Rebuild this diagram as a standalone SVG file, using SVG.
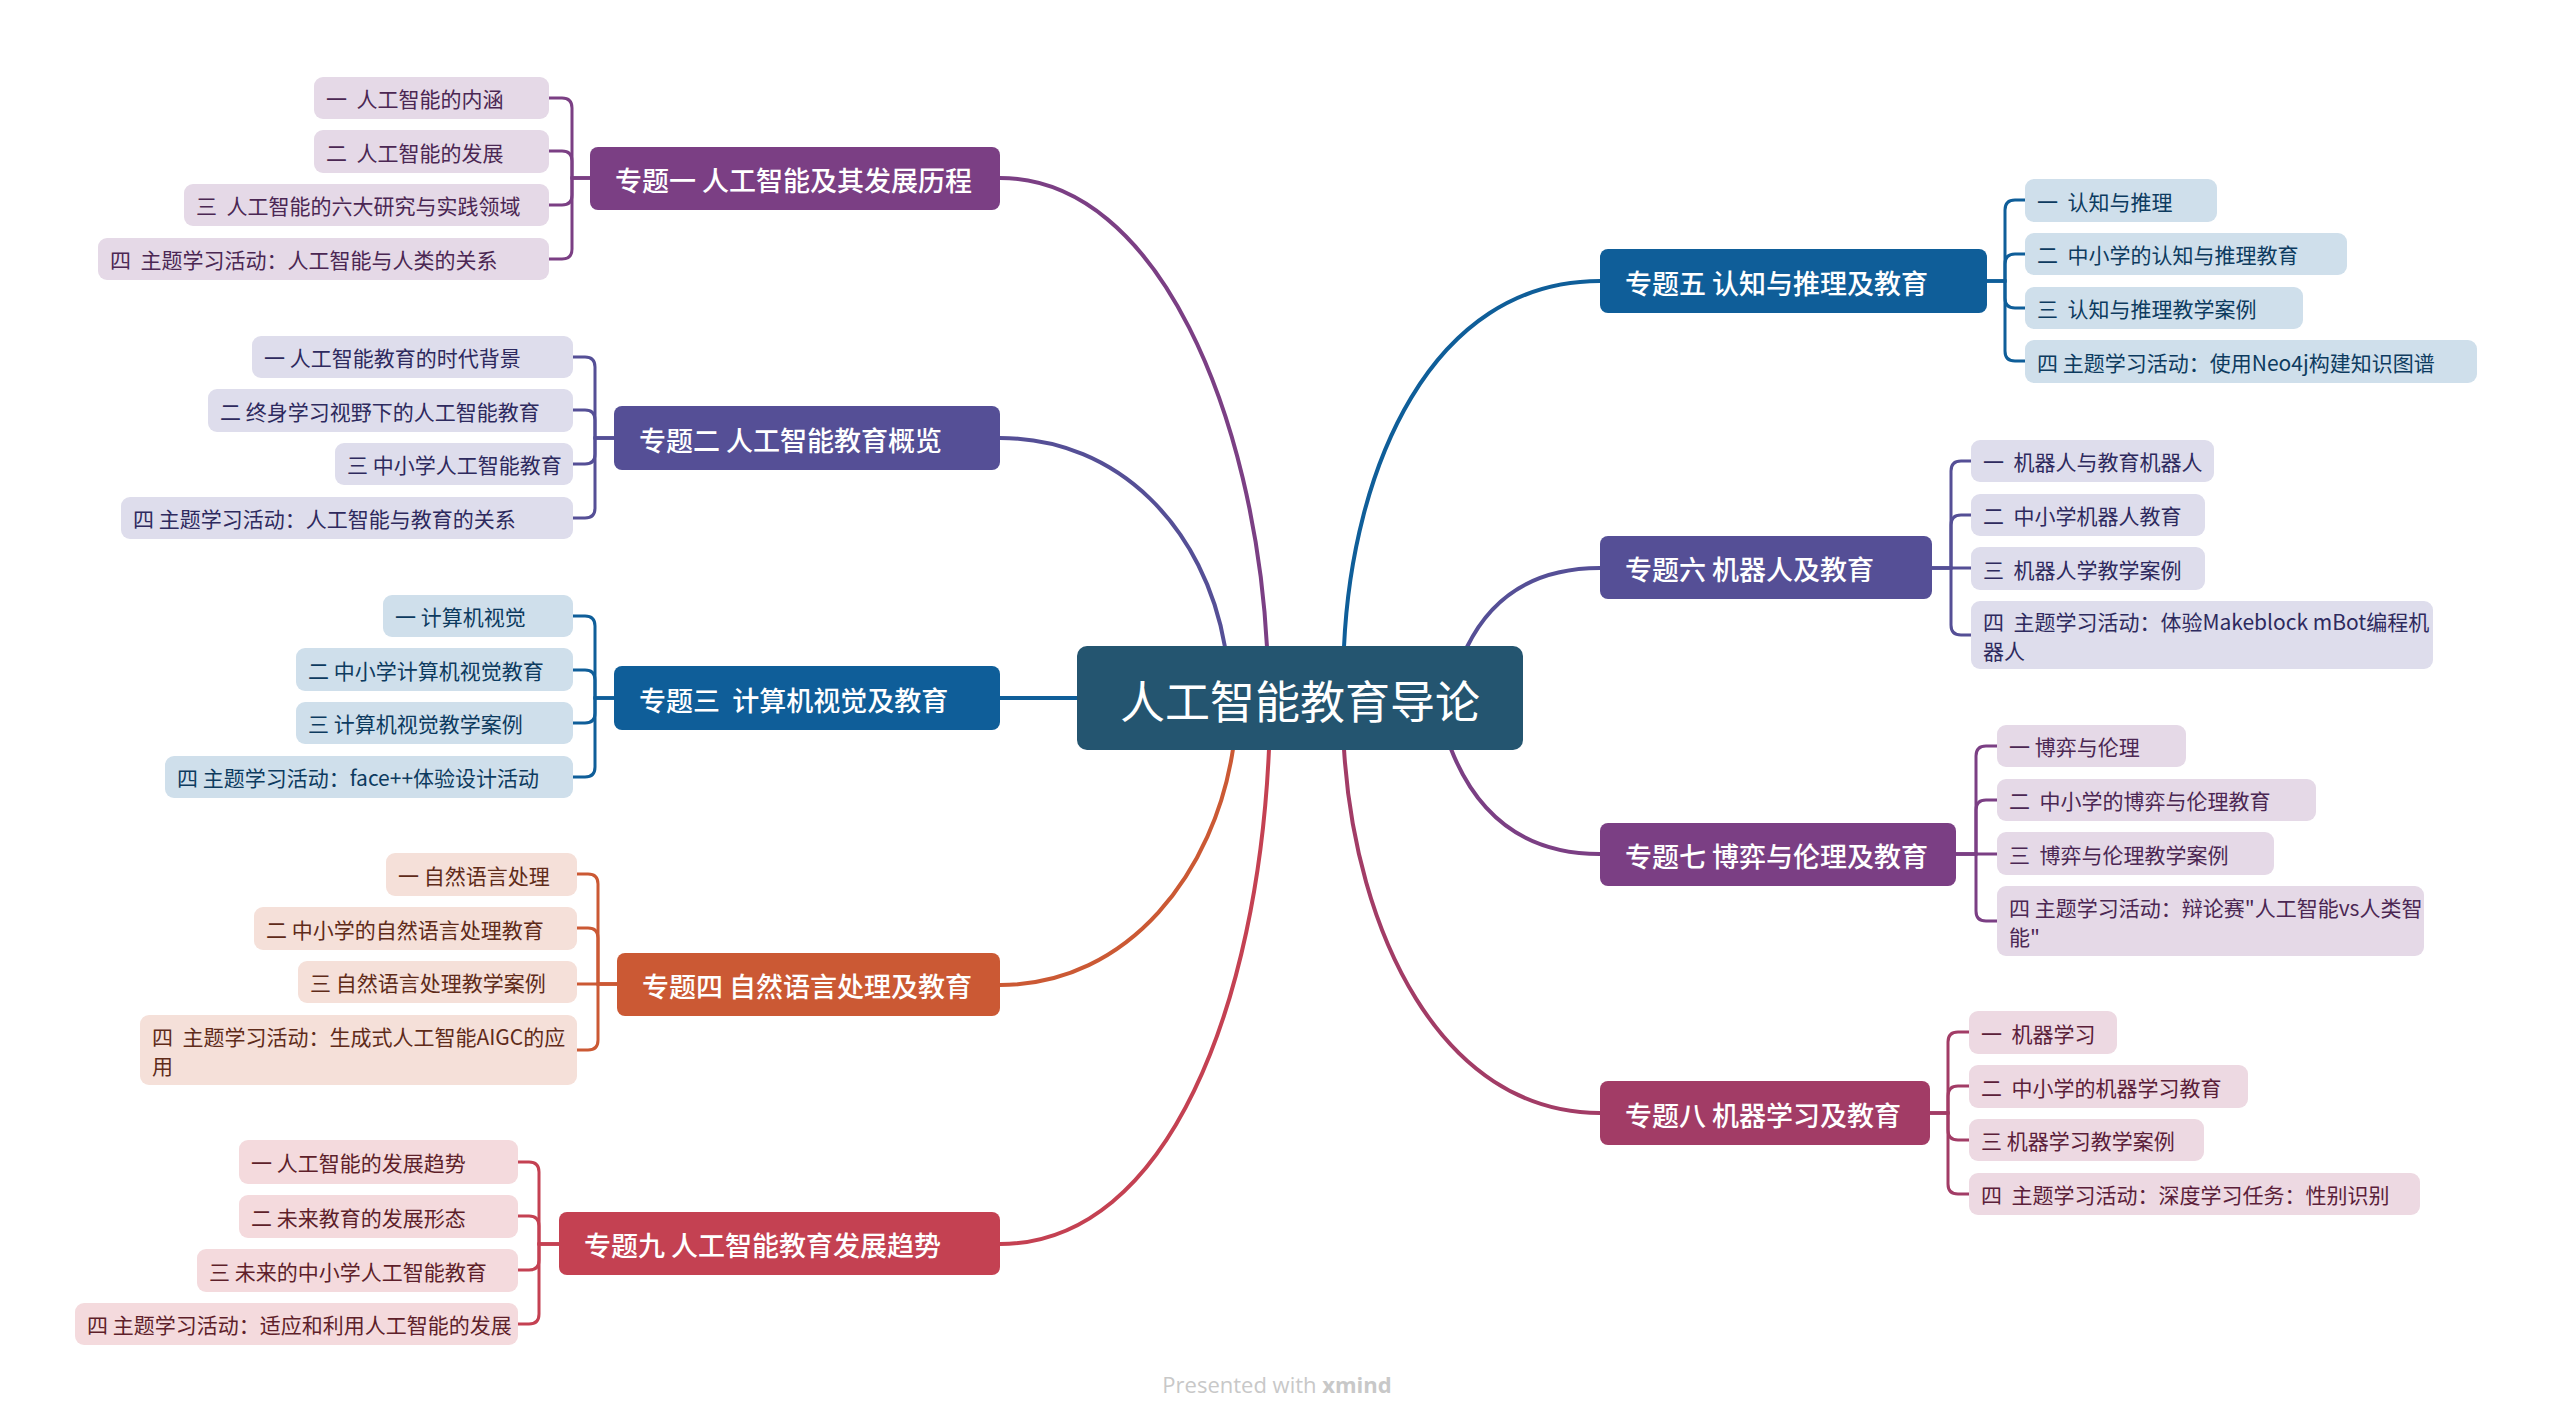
<svg xmlns="http://www.w3.org/2000/svg" width="2554" height="1422" viewBox="0 0 2554 1422">
<style>
text{font-family:"Noto Sans CJK SC","Noto Sans",sans-serif;white-space:pre;dominant-baseline:central}
.ct{font-size:45px;fill:#fff;text-anchor:middle}
.tt{font-size:27px;fill:#fff;font-weight:500}
.st{font-size:21px}
.ln{fill:none;stroke-width:4;stroke-linecap:round}
.br{fill:none;stroke-width:3}
.pu{fill:#7B3F84}.in{fill:#554F96}.bl{fill:#0F5E99}.or{fill:#CB5934}.ma{fill:#A23C66}.re{fill:#C44152}
.spu{stroke:#7B3F84}.sin{stroke:#554F96}.sbl{stroke:#0F5E99}.sor{stroke:#CB5934}.sma{stroke:#A23C66}.sre{stroke:#C44152}
.lpu{fill:#E5D9E7}.lin{fill:#DEDDEC}.lbl{fill:#CFDFEB}.lor{fill:#F5E0D9}.lma{fill:#EDD9E2}.lre{fill:#F4DADD}
.dpu{fill:#4B2753}.din{fill:#2E2A5E}.dbl{fill:#0D3B5F}.dor{fill:#5F2B19}.dma{fill:#5B2039}.dre{fill:#5E1F2A}
</style>
<rect width="2554" height="1422" fill="#fff"/>
<g id="connectors">
<path class="ln spu" d="M1000,178 C1160,178 1255,420 1267,647"/>
<path class="ln sin" d="M1000,438 C1120,438 1205,530 1225,647"/>
<path class="ln sbl" d="M1000,698 H1077"/>
<path class="ln sor" d="M1000,985 C1130,985 1215,870 1233,749"/>
<path class="ln sre" d="M1000,1244 C1170,1244 1258,1000 1269,749"/>
<path class="ln sbl" d="M1600,281 C1430,281 1352,470 1344,647"/>
<path class="ln sin" d="M1600,568 C1530,568 1490,600 1467,647"/>
<path class="ln spu" d="M1600,854 C1520,854 1475,810 1451,749"/>
<path class="ln sma" d="M1600,1113 C1440,1113 1355,930 1344,749"/>
<g class="br spu">
<path d="M590,178 H572 V108 Q572,98 562,98 H549"/>
<path d="M590,178 H572 V161 Q572,151 562,151 H549"/>
<path d="M590,178 H572 V195 Q572,205 562,205 H549"/>
<path d="M590,178 H572 V249 Q572,259 562,259 H549"/>
</g>
<g class="br sin">
<path d="M614,438 H595 V367 Q595,357 585,357 H573"/>
<path d="M614,438 H595 V420 Q595,410 585,410 H573"/>
<path d="M614,438 H595 V454 Q595,464 585,464 H573"/>
<path d="M614,438 H595 V508 Q595,518 585,518 H573"/>
</g>
<g class="br sbl">
<path d="M614,698 H595 V626 Q595,616 585,616 H573"/>
<path d="M614,698 H595 V680 Q595,670 585,670 H573"/>
<path d="M614,698 H595 V713 Q595,723 585,723 H573"/>
<path d="M614,698 H595 V767 Q595,777 585,777 H573"/>
</g>
<g class="br sor">
<path d="M617,984 H598 V884 Q598,874 588,874 H577"/>
<path d="M617,984 H598 V938 Q598,928 588,928 H577"/>
<path d="M617,984 H577"/>
<path d="M617,984 H598 V1040 Q598,1050 588,1050 H577"/>
</g>
<g class="br sre">
<path d="M559,1244 H539 V1172 Q539,1162 529,1162 H518"/>
<path d="M559,1244 H539 V1226 Q539,1216 529,1216 H518"/>
<path d="M559,1244 H539 V1260 Q539,1270 529,1270 H518"/>
<path d="M559,1244 H539 V1314 Q539,1324 529,1324 H518"/>
</g>
<g class="br sbl">
<path d="M1987,281 H2005 V210 Q2005,200 2015,200 H2025"/>
<path d="M1987,281 H2005 V264 Q2005,254 2015,254 H2025"/>
<path d="M1987,281 H2005 V298 Q2005,308 2015,308 H2025"/>
<path d="M1987,281 H2005 V351 Q2005,361 2015,361 H2025"/>
</g>
<g class="br sin">
<path d="M1932,568 H1951 V471 Q1951,461 1961,461 H1971"/>
<path d="M1932,568 H1951 V525 Q1951,515 1961,515 H1971"/>
<path d="M1932,568 H1971"/>
<path d="M1932,568 H1951 V625 Q1951,635 1961,635 H1971"/>
</g>
<g class="br spu">
<path d="M1956,854 H1976 V756 Q1976,746 1986,746 H1997"/>
<path d="M1956,854 H1976 V810 Q1976,800 1986,800 H1997"/>
<path d="M1956,854 H1997"/>
<path d="M1956,854 H1976 V911 Q1976,921 1986,921 H1997"/>
</g>
<g class="br sma">
<path d="M1930,1113 H1948 V1042 Q1948,1032 1958,1032 H1969"/>
<path d="M1930,1113 H1948 V1096 Q1948,1086 1958,1086 H1969"/>
<path d="M1930,1113 H1948 V1130 Q1948,1140 1958,1140 H1969"/>
<path d="M1930,1113 H1948 V1184 Q1948,1194 1958,1194 H1969"/>
</g>
</g>

<g id="central"><rect x="1077" y="646" width="446" height="104" rx="10" fill="#245570"/><text class="ct" x="1300" y="699">人工智能教育导论</text></g>

<g id="t1"><rect class="pu" x="590" y="147" width="410" height="63" rx="8"/><text class="tt" x="615" y="179">专题一 人工智能及其发展历程</text></g>
<g id="t2"><rect class="in" x="614" y="406" width="386" height="64" rx="8"/><text class="tt" x="639" y="439">专题二 人工智能教育概览</text></g>
<g id="t3"><rect class="bl" x="614" y="666" width="386" height="64" rx="8"/><text class="tt" x="639" y="699">专题三  计算机视觉及教育</text></g>
<g id="t4"><rect class="or" x="617" y="953" width="383" height="63" rx="8"/><text class="tt" x="642" y="985">专题四 自然语言处理及教育</text></g>
<g id="t9"><rect class="re" x="559" y="1212" width="441" height="63" rx="8"/><text class="tt" x="584" y="1244">专题九 人工智能教育发展趋势</text></g>
<g id="t5"><rect class="bl" x="1600" y="249" width="387" height="64" rx="8"/><text class="tt" x="1625" y="282">专题五 认知与推理及教育</text></g>
<g id="t6"><rect class="in" x="1600" y="536" width="332" height="63" rx="8"/><text class="tt" x="1625" y="568">专题六 机器人及教育</text></g>
<g id="t7"><rect class="pu" x="1600" y="823" width="356" height="63" rx="8"/><text class="tt" x="1625" y="855">专题七 博弈与伦理及教育</text></g>
<g id="t8"><rect class="ma" x="1600" y="1081" width="330" height="64" rx="8"/><text class="tt" x="1625" y="1114">专题八 机器学习及教育</text></g>

<g id="t1-1"><rect class="lpu" x="314" y="77" width="235" height="42" rx="9"/><text class="st dpu" x="326" y="98">一  人工智能的内涵</text></g>
<g id="t1-2"><rect class="lpu" x="314" y="130" width="235" height="43" rx="9"/><text class="st dpu" x="326" y="152">二  人工智能的发展</text></g>
<g id="t1-3"><rect class="lpu" x="184" y="184" width="365" height="42" rx="9"/><text class="st dpu" x="196" y="205">三  人工智能的六大研究与实践领域</text></g>
<g id="t1-4"><rect class="lpu" x="98" y="238" width="451" height="42" rx="9"/><text class="st dpu" x="110" y="259">四  主题学习活动：人工智能与人类的关系</text></g>

<g id="t2-1"><rect class="lin" x="252" y="336" width="321" height="42" rx="9"/><text class="st din" x="264" y="357">一 人工智能教育的时代背景</text></g>
<g id="t2-2"><rect class="lin" x="208" y="389" width="365" height="43" rx="9"/><text class="st din" x="220" y="411">二 终身学习视野下的人工智能教育</text></g>
<g id="t2-3"><rect class="lin" x="335" y="443" width="238" height="42" rx="9"/><text class="st din" x="347" y="464">三 中小学人工智能教育</text></g>
<g id="t2-4"><rect class="lin" x="121" y="497" width="452" height="42" rx="9"/><text class="st din" x="133" y="518">四 主题学习活动：人工智能与教育的关系</text></g>

<g id="t3-1"><rect class="lbl" x="383" y="595" width="190" height="42" rx="9"/><text class="st dbl" x="395" y="616">一 计算机视觉</text></g>
<g id="t3-2"><rect class="lbl" x="296" y="648" width="277" height="43" rx="9"/><text class="st dbl" x="308" y="670">二 中小学计算机视觉教育</text></g>
<g id="t3-3"><rect class="lbl" x="296" y="702" width="277" height="42" rx="9"/><text class="st dbl" x="308" y="723">三 计算机视觉教学案例</text></g>
<g id="t3-4"><rect class="lbl" x="165" y="756" width="408" height="42" rx="9"/><text class="st dbl" x="177" y="777">四 主题学习活动：face++体验设计活动</text></g>

<g id="t4-1"><rect class="lor" x="386" y="853" width="191" height="43" rx="9"/><text class="st dor" x="398" y="875">一 自然语言处理</text></g>
<g id="t4-2"><rect class="lor" x="254" y="907" width="323" height="43" rx="9"/><text class="st dor" x="266" y="929">二 中小学的自然语言处理教育</text></g>
<g id="t4-3"><rect class="lor" x="298" y="961" width="279" height="42" rx="9"/><text class="st dor" x="310" y="982">三 自然语言处理教学案例</text></g>
<g id="t4-4"><rect class="lor" x="140" y="1015" width="437" height="70" rx="9"/><text class="st dor" x="152" y="1036">四  主题学习活动：生成式人工智能AIGC的应</text><text class="st dor" x="152" y="1065">用</text></g>

<g id="t9-1"><rect class="lre" x="239" y="1140" width="279" height="44" rx="9"/><text class="st dre" x="251" y="1162">一 人工智能的发展趋势</text></g>
<g id="t9-2"><rect class="lre" x="239" y="1195" width="279" height="43" rx="9"/><text class="st dre" x="251" y="1217">二 未来教育的发展形态</text></g>
<g id="t9-3"><rect class="lre" x="197" y="1249" width="321" height="43" rx="9"/><text class="st dre" x="209" y="1271">三 未来的中小学人工智能教育</text></g>
<g id="t9-4"><rect class="lre" x="75" y="1303" width="443" height="42" rx="9"/><text class="st dre" x="87" y="1324">四 主题学习活动：适应和利用人工智能的发展</text></g>

<g id="t5-1"><rect class="lbl" x="2025" y="179" width="192" height="43" rx="9"/><text class="st dbl" x="2037" y="201">一  认知与推理</text></g>
<g id="t5-2"><rect class="lbl" x="2025" y="233" width="322" height="42" rx="9"/><text class="st dbl" x="2037" y="254">二  中小学的认知与推理教育</text></g>
<g id="t5-3"><rect class="lbl" x="2025" y="287" width="278" height="42" rx="9"/><text class="st dbl" x="2037" y="308">三  认知与推理教学案例</text></g>
<g id="t5-4"><rect class="lbl" x="2025" y="340" width="452" height="43" rx="9"/><text class="st dbl" x="2037" y="362">四 主题学习活动：使用Neo4j构建知识图谱</text></g>

<g id="t6-1"><rect class="lin" x="1971" y="440" width="243" height="42" rx="9"/><text class="st din" x="1983" y="461">一  机器人与教育机器人</text></g>
<g id="t6-2"><rect class="lin" x="1971" y="494" width="234" height="42" rx="9"/><text class="st din" x="1983" y="515">二  中小学机器人教育</text></g>
<g id="t6-3"><rect class="lin" x="1971" y="547" width="234" height="43" rx="9"/><text class="st din" x="1983" y="569">三  机器人学教学案例</text></g>
<g id="t6-4"><rect class="lin" x="1971" y="601" width="462" height="68" rx="9"/><text class="st din" x="1983" y="621">四  主题学习活动：体验Makeblock mBot编程机</text><text class="st din" x="1983" y="650">器人</text></g>

<g id="t7-1"><rect class="lpu" x="1997" y="725" width="189" height="42" rx="9"/><text class="st dpu" x="2009" y="746">一 博弈与伦理</text></g>
<g id="t7-2"><rect class="lpu" x="1997" y="779" width="319" height="42" rx="9"/><text class="st dpu" x="2009" y="800">二  中小学的博弈与伦理教育</text></g>
<g id="t7-3"><rect class="lpu" x="1997" y="832" width="277" height="43" rx="9"/><text class="st dpu" x="2009" y="854">三  博弈与伦理教学案例</text></g>
<g id="t7-4"><rect class="lpu" x="1997" y="886" width="427" height="70" rx="9"/><text class="st dpu" x="2009" y="907">四 主题学习活动：辩论赛"人工智能vs人类智</text><text class="st dpu" x="2009" y="936">能"</text></g>

<g id="t8-1"><rect class="lma" x="1969" y="1011" width="148" height="43" rx="9"/><text class="st dma" x="1981" y="1033">一  机器学习</text></g>
<g id="t8-2"><rect class="lma" x="1969" y="1065" width="279" height="43" rx="9"/><text class="st dma" x="1981" y="1087">二  中小学的机器学习教育</text></g>
<g id="t8-3"><rect class="lma" x="1969" y="1119" width="235" height="42" rx="9"/><text class="st dma" x="1981" y="1140">三 机器学习教学案例</text></g>
<g id="t8-4"><rect class="lma" x="1969" y="1173" width="451" height="42" rx="9"/><text class="st dma" x="1981" y="1194">四  主题学习活动：深度学习任务：性别识别</text></g>

<text x="1277" y="1384" style="font-family:'Open Sans','Liberation Sans',sans-serif;font-size:22px;fill:#C8C8C8;text-anchor:middle">Presented with <tspan font-weight="bold">xmind</tspan></text>
</svg>
